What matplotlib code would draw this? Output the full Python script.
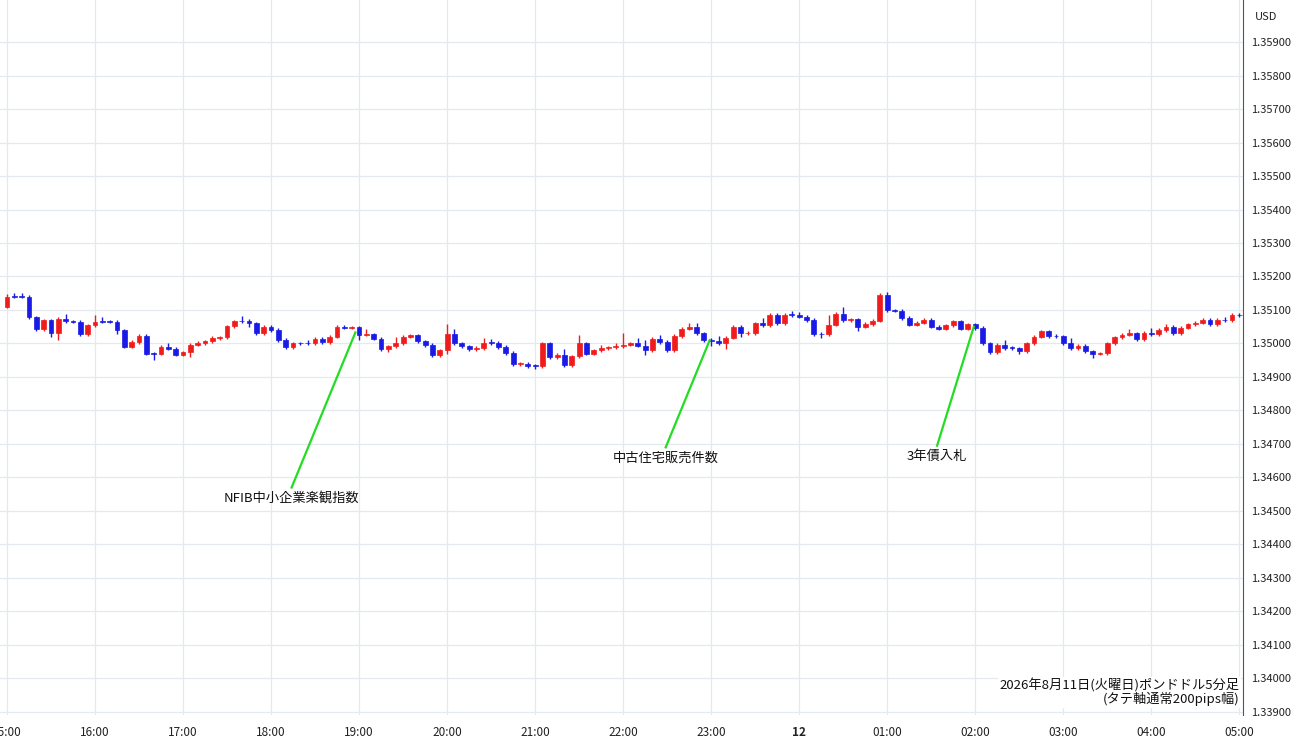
import matplotlib
matplotlib.use("Agg")
import matplotlib.pyplot as plt
from matplotlib.patches import Rectangle

plt.rcParams['font.family'] = ['Noto Sans CJK JP', 'DejaVu Sans']

BASE = 1.3500
PIP = 0.0001
first_open = 11.0
# closes in pips relative to 1.35000, one per 5-minute candle from 15:00
closes = [14, 14, 14, 7.8, 4.2, 6.9, 3, 7.3, 6.6, 6.5, 2.8, 5.4,
          6.5, 6.5, 6.5, 3.9, -0.9, 0.4, 2.2, -3, -3, -1, -1.5, -3.3,
          -2.6, -0.3, 0, 0.6, 1.6, 1.8, 5.1, 6.6, 6.6, 6.0, 3.1, 5.0,
          4.0, 1.0, -1.0, 0, 0, 0, 1.4, 0.4, 2.0, 5.0, 4.7, 4.8,
          2.6, 2.7, 1.4, -1.6, -0.8, 0, 2.0, 2.4, 0.6, -0.4, -3.4, -2.0,
          2.8, 0, -0.8, -1.6, -1.3, 0.2, 0.1, -1.0, -2.8, -6.2, -6.0, -6.7,
          -6.7, 0, -4.0, -3.3, -6.5, -3.8, 0, -3.0, -2.0, -1.3, -1.1, -0.8,
          -0.3, 0, -0.6, -1.9, 1.4, 0.4, -2.0, 2.2, 4.4, 5.0, 3.0, 1.0,
          0.7, 0, 1.7, 5.0, 3.0, 3.1, 6.0, 5.4, 8.6, 6.0, 8.6, 8.5,
          8.0, 7.0, 2.8, 2.7, 5.6, 8.9, 7.0, 7.2, 5.0, 5.8, 6.8, 14.5,
          9.9, 9.8, 7.6, 5.6, 6.2, 7.0, 5.0, 4.4, 5.4, 6.6, 4.4, 5.7,
          4.6, 0, -2.6, -0.4, -1.3, -1.4, -2.3, 0, 2.0, 3.6, 2.2, 2.1,
          0, -1.3, -0.6, -2.3, -3.0, -2.9, 0, 1.8, 2.6, 3.0, 1.2, 3.2,
          2.7, 4.0, 5.0, 3.0, 4.7, 5.7, 6.2, 7.0, 5.8, 7.0, 6.9, 8.5,
          8.4]
# extra wick beyond body (pips)
up_wick = [0.8, 1, 1, 0.5, 0.5, 0.5, 0.5, 0.5, 1.5, 0.5, 0.5, 0.5,
           2, 1.5, 0.5, 0.5, 0.5, 0.5, 0.5, 0.5, 0.5, 0.5, 1, 0.5,
           0.5, 0.5, 0.8, 0.5, 0.5, 0.5, 0.5, 0.5, 1.5, 0.8, 0.5, 0.5,
           0.5, 0.5, 0.5, 0.5, 0.5, 1, 0.5, 0.5, 0.5, 0.5, 0.5, 0.5,
           0.5, 1.5, 0.5, 0.5, 0.5, 2, 0.5, 0.5, 0.5, 0.5, 0.5, 0.5,
           3, 1.5, 0.5, 0.5, 0.5, 1.5, 1, 0.5, 0.5, 0.5, 0.5, 0.5,
           0.5, 0.5, 0.5, 0.5, 1.8, 0.5, 2.5, 0.5, 0.5, 1, 0.5, 1,
           3.5, 0.5, 1.5, 1.5, 0.5, 1, 0.5, 0.5, 0.5, 1.2, 1.2, 0.5,
           0.5, 1.5, 0.5, 0.5, 0.5, 0.5, 0.5, 1.5, 0.5, 0.5, 0.5, 1.2,
           1, 0.5, 0.5, 0.5, 3, 0.5, 2, 0.5, 0.5, 0.5, 0.5, 0.5,
           0.8, 0.5, 0.5, 0.5, 0.5, 0.5, 0.5, 0.5, 0.5, 0.5, 0.5, 0.5,
           0.5, 0.5, 0.5, 0.5, 1.5, 0.5, 0.5, 0.5, 0.5, 0.5, 0.5, 0.5,
           0.5, 1.5, 0.5, 0.5, 0.5, 0.5, 0.5, 0.5, 0.5, 1.2, 0.5, 0.5,
           1.5, 0.5, 0.8, 0.5, 0.5, 0.5, 0.5, 0.5, 0.5, 0.5, 0.8, 0.5,
           0.5]
down_wick = [0.5, 0.5, 0.5, 0.5, 0.5, 0.5, 1, 2, 0.5, 0.5, 0.5, 0.5,
             0.5, 0.5, 0.5, 1, 0.5, 0.5, 0.5, 0.5, 2, 0.5, 0.5, 0.5,
             0.5, 1.5, 0.5, 0.5, 0.5, 0.5, 0.5, 0.5, 0.5, 1, 0.5, 0.5,
             0.5, 0.5, 0.5, 0.5, 0.5, 0.5, 0.5, 0.5, 0.5, 0.5, 0.5, 0.5,
             1.5, 0.5, 0.5, 0.5, 1, 0.5, 0.5, 0.5, 0.5, 0.5, 0.5, 0.5,
             1, 0.5, 0.5, 0.5, 0.5, 0.5, 0.5, 0.5, 0.5, 0.5, 0.5, 0.5,
             1, 0.5, 0.5, 0.5, 0.5, 0.5, 0.5, 0.5, 0.5, 0.5, 0.5, 0.5,
             0.5, 0.5, 0.5, 1.5, 0.5, 0.5, 0.5, 0.5, 0.5, 0.5, 0.5, 0.5,
             1.5, 0.5, 1.5, 0.5, 1.2, 0.5, 0.5, 0.5, 0.5, 0.5, 0.5, 0.5,
             0.5, 0.5, 0.5, 1.2, 0.5, 0.5, 0.5, 0.5, 1.2, 0.5, 0.5, 0.5,
             0.5, 0.5, 0.5, 0.5, 0.5, 0.5, 0.5, 0.5, 0.5, 0.5, 0.5, 0.5,
             0.5, 0.5, 0.5, 0.5, 0.5, 0.5, 0.8, 0.5, 0.5, 0.5, 0.5, 0.5,
             0.5, 0.5, 0.5, 0.5, 1.2, 0.5, 0.5, 0.5, 0.5, 0.5, 0.5, 0.5,
             0.5, 0.5, 0.5, 0.5, 0.5, 0.5, 0.5, 0.5, 0.5, 0.5, 0.5, 0.5,
             0.5]

hour_labels = ["15:00", "16:00", "17:00", "18:00", "19:00", "20:00", "21:00",
               "22:00", "23:00", "12", "01:00", "02:00", "03:00", "04:00", "05:00"]
y_ticks = [1.339 + 0.001 * i for i in range(21)]

events = ["NFIB中小企業楽観指数", "中古住宅販売件数", "3年債入札"]
event_idx = [47.5, 95.8, 131.8]
event_price = [1.35033, 1.35010, 1.35050]
label_idx = [38.8, 89.8, 126.8]
label_price = [1.34570, 1.34690, 1.34695]

RED = '#f01c1c'
BLUE = '#1a1ae6'

fig = plt.figure(figsize=(13, 7.45), dpi=100)
ax = fig.add_axes([0, 1 - 715 / 745, 1243 / 1300, 715 / 745])

opens = [first_open] + closes[:-1]
w = 0.66
for i, (o, c) in enumerate(zip(opens, closes)):
    col = RED if c > o else BLUE
    hi = max(o, c) + up_wick[i]
    lo = min(o, c) - down_wick[i]
    ax.vlines(i, BASE + lo * PIP, BASE + hi * PIP, color=col, lw=1.0, zorder=3)
    bot = min(o, c)
    h = max(abs(c - o), 0.25)
    ax.add_patch(Rectangle((i - w / 2, BASE + bot * PIP), w, h * PIP,
                           facecolor=col, edgecolor=col, lw=0.5, zorder=4))

ax.set_xlim(-0.95, 168.5)
ax.set_ylim(1.33891, 1.360254)

ax.set_xticks([12 * k for k in range(len(hour_labels))])
ax.set_xticklabels(hour_labels, fontsize=8.5, color='#222222')
for lbl in ax.get_xticklabels():
    if lbl.get_text() == "12":
        lbl.set_fontweight('bold')
ax.yaxis.tick_right()
ax.set_yticks(y_ticks)
ax.set_yticklabels([f"{v:.5f}" for v in y_ticks], fontsize=8, color='#222222')
ax.tick_params(length=0, pad=8)
ax.tick_params(axis='y', pad=6)
ax.grid(True, color='#e3e9ef', lw=0.9)
ax.set_axisbelow(True)
for s in ['top', 'left', 'bottom']:
    ax.spines[s].set_visible(False)
ax.spines['right'].set_color('#555555')

fig.text(1255 / 1300, 1 - 17 / 745, "USD", fontsize=8, va='center', color='#222222')

for name, xi, yp, lx, ly in zip(events, event_idx, event_price, label_idx, label_price):
    ax.plot([xi, lx], [yp, ly], color='#22dd22', lw=1.6, zorder=5)
    ax.text(lx, ly - 0.00032, name, fontsize=9.5, ha='center', va='center', color='#111111')

ax.text(0.997, 0.012, "2026年8月11日(火曜日)ポンドドル5分足\n(タテ軸通常200pips幅)",
        transform=ax.transAxes, ha='right', va='bottom', fontsize=9.5,
        linespacing=1.0, color='#111111',
        bbox=dict(facecolor='white', edgecolor='none', pad=1), zorder=6)

fig.savefig("out.png", dpi=100)
